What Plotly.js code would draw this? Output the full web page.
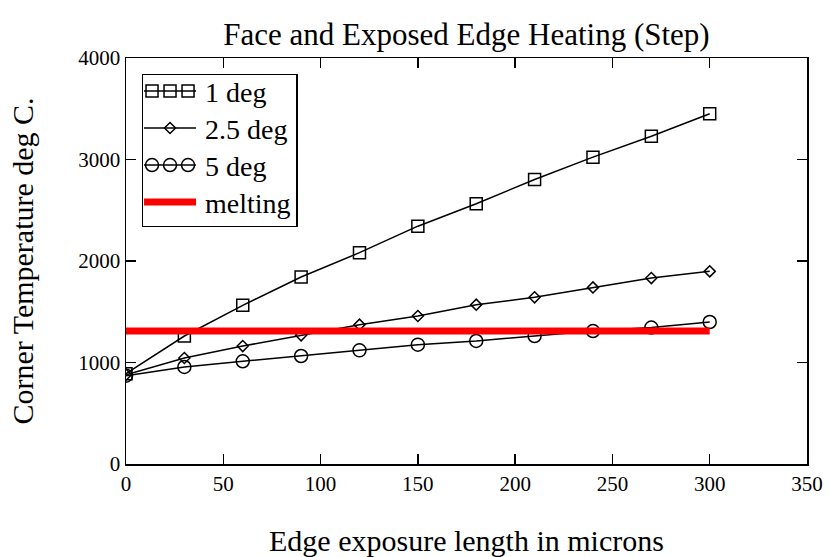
<!DOCTYPE html>
<html>
<head>
<meta charset="utf-8">
<script src="https://cdn.plot.ly/plotly-3.0.1.min.js"></script>
<style>html,body{margin:0;padding:0;background:#fff;}#chart{width:829px;height:557px;}</style>
</head>
<body>
<div id="chart"></div>
<script>
const xMicrons = [0, 30, 60, 90, 120, 150, 180, 210, 240, 270, 300];
const deg1 = [890, 1261, 1563, 1842, 2082, 2343, 2564, 2803, 3023, 3229, 3450];
const deg25 = [880, 1044, 1162, 1268, 1373, 1458, 1570, 1642, 1740, 1832, 1898];
const deg5 = [870, 956, 1012, 1064, 1120, 1176, 1212, 1261, 1310, 1344, 1399];
const meltX = [0, 300];
const meltY = [1310, 1310];
const seriesNames = ["1 deg", "2.5 deg", "5 deg", "melting"];

const font = "'Liberation Serif'";
const blackLine = {color: "#000", width: 1.5};

const traces = [
  {x: xMicrons, y: deg1, name: seriesNames[0], mode: "lines+markers",
   line: blackLine, marker: {symbol: "square-open", size: 12, color: "#000", line: {width: 1.5, color: "#000"}}},
  {x: xMicrons, y: deg25, name: seriesNames[1], mode: "lines+markers",
   line: blackLine, marker: {symbol: "diamond-open", size: 8.5, color: "#000", line: {width: 1.5, color: "#000"}}},
  {x: xMicrons, y: deg5, name: seriesNames[2], mode: "lines+markers",
   line: blackLine, marker: {symbol: "circle-open", size: 13, color: "#000", line: {width: 1.5, color: "#000"}}},
  {x: meltX, y: meltY, name: seriesNames[3], mode: "lines",
   line: {color: "#ff0000", width: 7}}
];

const axisCommon = {
  showline: true, linecolor: "#000", linewidth: 1.5, mirror: "ticks",
  ticks: "inside", ticklen: 10, tickwidth: 1.5, tickcolor: "#000",
  showgrid: false, zeroline: false,
  tickfont: {family: font, size: 21, color: "#000"}
};

const layout = {
  width: 829, height: 557,
  margin: {l: 126, r: 22, t: 58, b: 93, pad: 0},
  paper_bgcolor: "#fff", plot_bgcolor: "#fff",
  font: {family: font, color: "#000"},
  title: {text: "Face and Exposed Edge Heating (Step)", font: {family: font, size: 31, color: "#000"},
          x: 0.5, xref: "paper", y: 0.939, yref: "container", yanchor: "middle"},
  xaxis: Object.assign({}, axisCommon, {range: [0, 350], dtick: 50, tick0: 0,
    title: {text: "Edge exposure length in microns", font: {family: font, size: 30, color: "#000"}, standoff: 36}}),
  yaxis: Object.assign({}, axisCommon, {range: [0, 4000], dtick: 1000, tick0: 0,
    title: {text: "Corner Temperature deg C.", font: {family: font, size: 30, color: "#000"}, standoff: 36}}),
  showlegend: true,
  legend: {x: 0.0228, y: 0.961, xanchor: "left", yanchor: "top",
    bgcolor: "#fff", bordercolor: "#000", borderwidth: 1.5,
    font: {family: font, size: 28, color: "#000"}, tracegroupgap: 0, itemwidth: 52}
};

const gd = document.getElementById("chart");
Plotly.newPlot(gd, traces, layout, {displayModeBar: false, staticPlot: true}).then(function () {
  // tighten legend rows and show three markers per symbol, as in the source figure
  const items = gd.querySelectorAll(".legend .traces");
  const re = /translate\(\s*([-\d.e]+)[ ,]+([-\d.e]+)\s*\)/;
  if (items.length) {
    const m0 = re.exec(items[0].getAttribute("transform") || "");
    if (m0) {
      const y0 = parseFloat(m0[2]) - 9;
      items.forEach(function (el, i) {
        const m = re.exec(el.getAttribute("transform") || "");
        if (m) el.setAttribute("transform", "translate(" + m[1] + "," + (y0 + i * 37) + ")");
      });
    }
    const bg = gd.querySelector(".legend rect.bg");
    if (bg) bg.setAttribute("height", 152);
  }
  items.forEach(function (el) {
    el.querySelectorAll(".legendpoints, .legendlines").forEach(function (g) {
      g.setAttribute("transform", "translate(-4,0)");
    });
  });
  [0, 2].forEach(function (idx) {
    const el = items[idx];
    if (!el) return;
    const pt = el.querySelector(".legendpoints path.scatterpts");
    if (!pt) return;
    const m = re.exec(pt.getAttribute("transform") || "translate(0,0)");
    const cx = m ? parseFloat(m[1]) : 0, cy = m ? parseFloat(m[2]) : 0;
    [-18, 18].forEach(function (dx) {
      const c = pt.cloneNode(true);
      c.setAttribute("transform", "translate(" + (cx + dx) + "," + cy + ")");
      pt.parentNode.appendChild(c);
    });
  });
});
</script>
</body>
</html>
